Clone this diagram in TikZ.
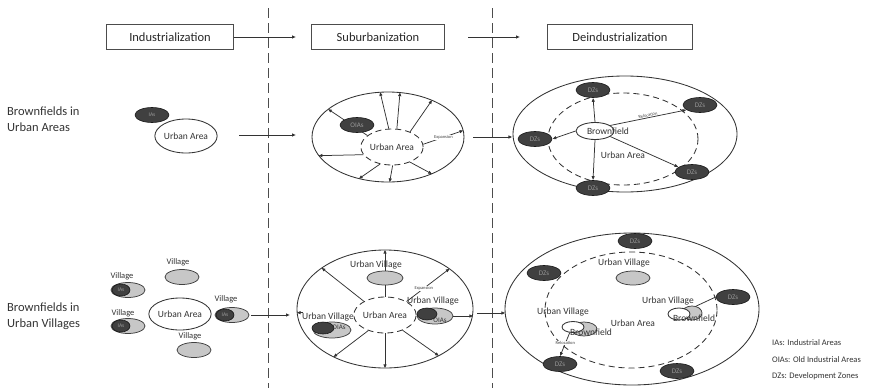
\documentclass[tikz,border=0pt]{standalone}
\usepackage{fontspec}
\setmainfont{Carlito}
\usetikzlibrary{shapes.geometric,arrows.meta}
\begin{document}
\begin{tikzpicture}[x=1pt,y=-1pt,
  ln/.style={draw=black!80, line width=0.75pt},
  arr/.style={ln, -{Latex[length=4pt,width=3.5pt]}},
  hdr/.style={draw=black!70, line width=0.9pt, minimum height=25pt, inner sep=0pt, font=\fontsize{12.5}{14}\selectfont, text=black!85},
  dark/.style={ellipse, draw=black!90, fill=black!75, line width=0.6pt, minimum width=34pt, minimum height=15pt, inner sep=0pt, font=\fontsize{5.5}{6}\selectfont, text=black!40},
  grey/.style={ellipse, draw=black!75, fill=black!22, line width=0.75pt, inner sep=0pt},
  wel/.style={ellipse, draw=black!80, fill=white, line width=0.85pt, inner sep=0pt},
  big/.style={ellipse, draw=black!80, line width=0.85pt, inner sep=0pt},
  dsh/.style={dash pattern=on 6pt off 4pt},
  vdsh/.style={draw=black!70, line width=0.9pt, dash pattern=on 10pt off 5pt},
  txt/.style={font=\fontsize{9.5}{10}\selectfont, text=black!80, inner sep=0pt},
  stxt/.style={font=\fontsize{4.5}{5}\selectfont, text=black!75, inner sep=0.5pt},
  rowlab/.style={font=\fontsize{12.5}{16.5}\selectfont, text=black!80, align=left, anchor=west, inner sep=0pt},
  leg/.style={font=\fontsize{8.5}{10}\selectfont, text=black!80, anchor=west, inner sep=0pt}
]
\useasboundingbox (0,0) rectangle (882,388);

% column separators
\coordinate (s1t) at (268,8); \coordinate (s1b) at (268,388);
\coordinate (s2t) at (492,8); \coordinate (s2b) at (492,388);
\draw[vdsh] (s1t) -- (s1b);
\draw[vdsh] (s2t) -- (s2b);

% headers
\node[hdr, minimum width=127pt] (h1) at (170,37) {Industrialization};
\node[hdr, minimum width=133pt] (h2) at (378,37) {Suburbanization};
\node[hdr, minimum width=145pt] (h3) at (620,37) {Deindustrialization};
\coordinate (h1e) at (296,37);
\coordinate (h2s) at (468,37);
\coordinate (h2e) at (520,37);
\draw[arr] (h1.east) -- (h1e);
\draw[arr] (h2s) -- (h2e);

% row labels
\node[rowlab] (r1) at (7,119) {Brownfields in\\Urban Areas};
\node[rowlab] (r2) at (7,316) {Brownfields in\\Urban Villages};

% ---------- Row 1, column 1
\node[dark] (ia0) at (152,115) {IAs};
\node[wel, minimum width=58pt, minimum height=34pt, txt] (ua0) at (186,136) {Urban Area};
\coordinate (a1s) at (239,135);
\coordinate (a1e) at (296,135);
\draw[arr] (a1s) -- (a1e);

% ---------- Row 1, column 2
\node[big, minimum width=152pt, minimum height=90pt] (ob1) at (388,137) {};
\node[big, dsh, minimum width=58pt, minimum height=36pt, txt] (ua1) at (392,147) {Urban Area};
\foreach \a in {155,100,75,40,195,235,272,320}
  \draw[arr] (ua1.\a) -- (ob1.\a);
\draw[arr] (ua1.5) -- node[stxt, fill=white, pos=0.5] {Expansion} (ob1.5);
\node[dark, font=\fontsize{7}{8}\selectfont] (oia1) at (357,125) {OIAs};
\draw[arr] ([xshift=9pt]ob1.east) -- ++(39,0);

% ---------- Row 1, column 3
\node[big, minimum width=224pt, minimum height=116pt] (ob2) at (625,134) {};
\node[big, dsh, minimum width=150pt, minimum height=92pt] (da2) at (623,139) {};
\node[dark, font=\fontsize{7}{8}\selectfont] (d1) at (593,90) {DZs};
\node[dark, font=\fontsize{7}{8}\selectfont] (d2) at (700,105) {DZs};
\node[dark, font=\fontsize{7}{8}\selectfont] (d3) at (535,139) {DZs};
\node[dark, font=\fontsize{7}{8}\selectfont] (d4) at (593,188) {DZs};
\node[dark, font=\fontsize{7}{8}\selectfont] (d5) at (692,172) {DZs};
\node[wel, minimum width=38pt, minimum height=17pt] (bf1) at (595,131) {};
\draw[arr] (bf1.north) -- (d1.south);
\draw[arr] (bf1.20) -- node[stxt, above=0pt, sloped] {Relocation} (d2.200);
\draw[arr] (bf1.west) -- (d3.east);
\draw[arr] (bf1.south) -- (d4.north);
\draw[arr] (bf1.-20) -- (d5.160);
\node[txt] (bft1) at (608,131) {Brownfield};
\node[txt] (uat1) at (623,155) {Urban Area};

% ---------- Row 2, column 1
\node[wel, minimum width=56pt, minimum height=32pt, txt] (ua2) at (180,314) {Urban Area};
\node[grey, minimum width=34pt, minimum height=15pt] (v1) at (182,277) {};
\node[txt, font=\fontsize{8.5}{9}\selectfont] (v1l) at (178,262) {Village};
\node[grey, minimum width=34pt, minimum height=15pt] (v2) at (128,290) {};
\node[dark, minimum width=18pt, minimum height=12pt] (v2i) at (121,290) {IAs};
\node[txt, font=\fontsize{8.5}{9}\selectfont] (v2l) at (122,276) {Village};
\node[grey, minimum width=34pt, minimum height=15pt] (v3) at (128,326) {};
\node[dark, minimum width=18pt, minimum height=12pt] (v3i) at (121,326) {IAs};
\node[txt, font=\fontsize{8.5}{9}\selectfont] (v3l) at (123,313) {Village};
\node[grey, minimum width=34pt, minimum height=15pt] (v4) at (232,315) {};
\node[dark, minimum width=18pt, minimum height=12pt] (v4i) at (225,315) {IAs};
\node[txt, font=\fontsize{8.5}{9}\selectfont] (v4l) at (226,299) {Village};
\node[grey, minimum width=34pt, minimum height=15pt] (v5) at (194,350) {};
\node[txt, font=\fontsize{8.5}{9}\selectfont] (v5l) at (190,336) {Village};
\coordinate (a3e) at (290,315);
\draw[arr] ([xshift=2pt]v4.east) -- (a3e);

% ---------- Row 2, column 2
\node[big, minimum width=176pt, minimum height=118pt] (ob3) at (385,309) {};
\node[big, dsh, minimum width=58pt, minimum height=36pt, txt] (ua3) at (385,315) {Urban Area};
\node[grey, minimum width=36pt, minimum height=14pt] (g31) at (385,278) {};
\node[txt] (l31) at (376,265) {Urban Village};
\draw[arr] (g31.north) -- (ob3.90);
\draw[ln] (ua3.north) -- (g31.south);
\draw[arr] (ua3.147) -- (ob3.147);
\draw[arr] (ua3.32) -- node[stxt, fill=white, pos=0.4] {Expansion} (ob3.32);
\draw[arr] (ua3.223) -- (ob3.223);
\draw[arr] (ua3.270) -- (ob3.270);
\draw[arr] (ua3.319) -- (ob3.319);
\node[grey, minimum width=36pt, minimum height=16pt] (g32) at (435,316) {};
\node[dark, minimum width=20pt, minimum height=12pt] (o32) at (427,314) {};
\node[txt, font=\fontsize{7}{8}\selectfont] (o32t) at (440,320) {OIAs};
\node[txt] (l32) at (433,301) {Urban Village};
\draw[arr] (g32.east) -- (g32.east -| ob3.east);
\node[grey, minimum width=38pt, minimum height=16pt] (g33) at (332,330) {};
\node[dark, minimum width=22pt, minimum height=12pt] (o33) at (323,328) {};
\node[txt, font=\fontsize{7}{8}\selectfont] (o33t) at (339,327) {OIAs};
\node[txt] (l33) at (328,317) {Urban Village};
\draw[arr] ([xshift=1pt]l33.north west) -- (l33.north west -| ob3.west);
\draw[arr] ([xshift=4pt,yshift=-4pt]ob3.east) -- ++(28,0);

% ---------- Row 2, column 3
\node[big, minimum width=254pt, minimum height=152pt] (ob4) at (632,309) {};
\node[big, dsh, minimum width=172pt, minimum height=116pt] (da4) at (631,310) {};
\node[dark, font=\fontsize{7}{8}\selectfont] (e1) at (635,241) {DZs};
\node[dark, font=\fontsize{7}{8}\selectfont] (e2) at (544,273) {DZs};
\node[dark, font=\fontsize{7}{8}\selectfont] (e3) at (733,297) {DZs};
\node[dark, font=\fontsize{7}{8}\selectfont] (e4) at (560,364) {DZs};
\node[dark, font=\fontsize{7}{8}\selectfont] (e5) at (677,371) {DZs};
\node[grey, minimum width=34pt, minimum height=14pt] (g41) at (633,278) {};
\node[txt] (l41) at (624,263) {Urban Village};
\node[grey, minimum width=20pt, minimum height=14pt] (g42) at (692,313) {};
\node[wel, minimum width=22pt, minimum height=12pt] (w42) at (679,314) {};
\draw[ln] (g42.60) -- (e3.west);
\node[txt] (b42) at (694,318) {Brownfield};
\node[txt] (l42) at (668,301) {Urban Village};
\node[grey, minimum width=26pt, minimum height=14pt] (g43) at (584,329) {};
\node[wel, minimum width=22pt, minimum height=11pt] (w43) at (573,327) {};
\node[txt] (b43) at (591,332) {Brownfield};
\node[txt] (l43) at (563,312) {Urban Village};
\draw[arr] (w43.240) -- node[stxt, fill=white, pos=0.45] {Relocation} (e4.north);
\node[txt] (ua4) at (633,323) {Urban Area};

% legend
\node[leg] (lg1) at (772,343) {IAs: Industrial Areas};
\node[leg] (lg2) at (772,360) {OIAs: Old Industrial Areas};
\node[leg] (lg3) at (772,376) {DZs: Development Zones};
\end{tikzpicture}
\end{document}
